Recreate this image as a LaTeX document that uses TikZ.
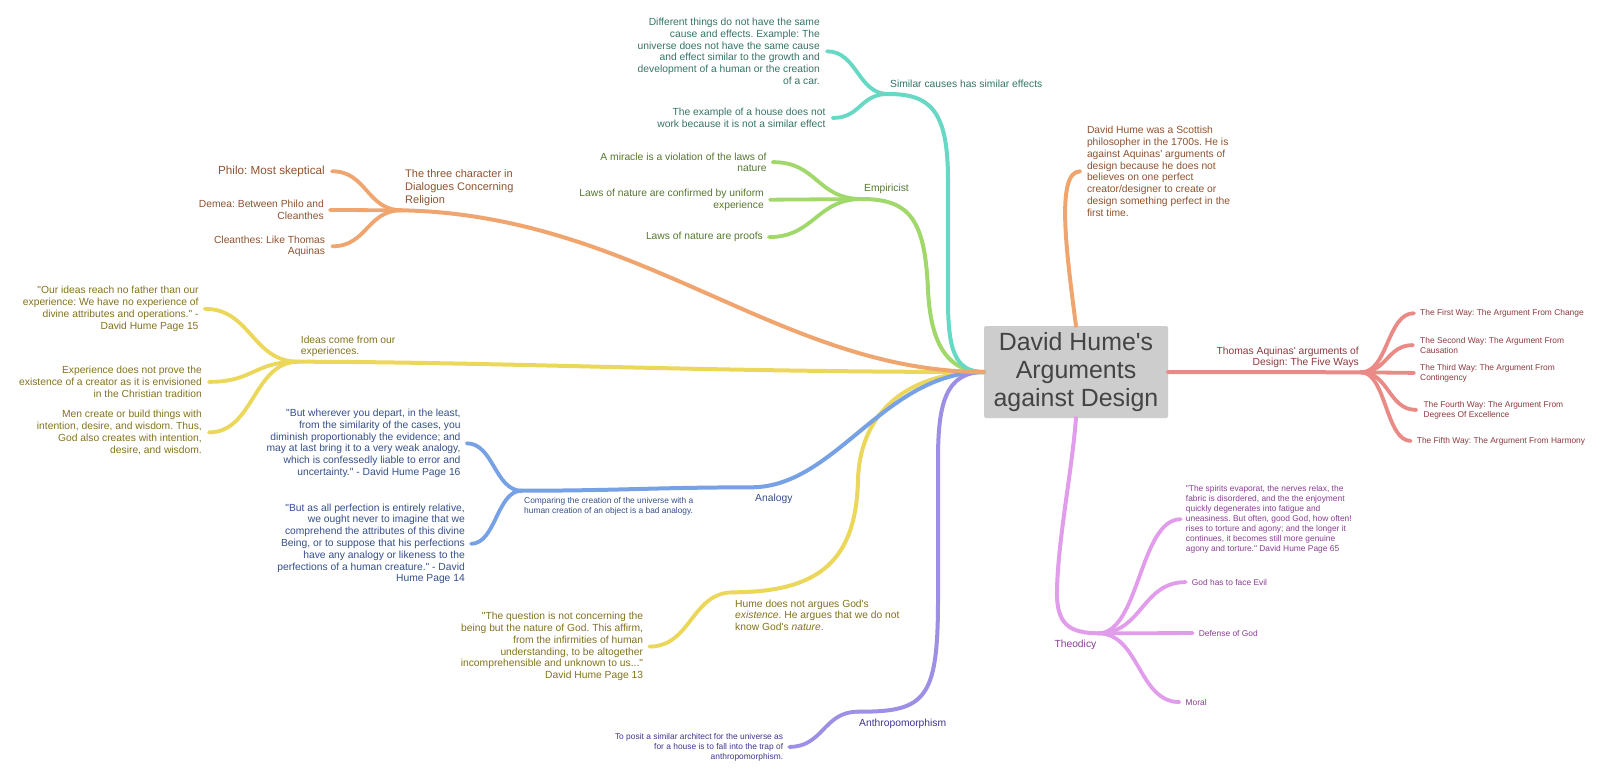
\documentclass[tikz,border=0pt]{standalone}
\usepackage{fontspec}
\setmainfont{Liberation Sans}[Ligatures=TeXOff]
\frenchspacing
\definecolor{tealL}{HTML}{66D8C3}
\definecolor{tealT}{HTML}{357567}
\definecolor{greenL}{HTML}{A1D86B}
\definecolor{greenT}{HTML}{56782F}
\definecolor{orangeL}{HTML}{F0A56F}
\definecolor{orangeT}{HTML}{8F5330}
\definecolor{yellowL}{HTML}{EBD75A}
\definecolor{yellowT}{HTML}{83731E}
\definecolor{blueL}{HTML}{77A1E5}
\definecolor{blueT}{HTML}{36508A}
\definecolor{purpleL}{HTML}{9D8FE6}
\definecolor{purpleT}{HTML}{3F3590}
\definecolor{redL}{HTML}{E98A86}
\definecolor{redT}{HTML}{8D3A3F}
\definecolor{pinkL}{HTML}{E29CEC}
\definecolor{pinkT}{HTML}{8A3D94}
\definecolor{boxfill}{HTML}{CDCDCD}
\definecolor{boxtext}{HTML}{444444}
\begin{document}
\begin{tikzpicture}[x=1pt,y=-1pt,
  br/.style={line width=4pt, line cap=round},
  sub/.style={line width=3.8pt, line cap=round},
  nt/.style={inner sep=0pt, font=\fontsize{10.3}{11.8}\selectfont},
  st/.style={inner sep=0pt, font=\fontsize{8.4}{10}\selectfont},
  txl/.style={anchor=north west, align=left},
  txr/.style={anchor=north east, align=right},
]
\fill[white] (0,0) rectangle (1614,779);
\useasboundingbox (0,0) rectangle (1614,779);

% centre
\node[fill=boxfill, rounded corners=1.5pt, minimum width=184pt, minimum height=92pt, inner sep=0pt,
      align=center, text=boxtext, font=\fontsize{24.9}{28.3}\selectfont] (c) at (1076,372)
      {David Hume's\\Arguments\\against Design};

% junctions
\coordinate (jT) at (888,94);
\coordinate (jG) at (861.7,199);
\coordinate (jO) at (401.7,210.3);
\coordinate (jY) at (298.3,361.7);
\coordinate (jB) at (751.7,487.3);
\coordinate (jB2) at (521.7,490.7);
\coordinate (jH) at (733.3,592.3);
\coordinate (jP) at (857.7,711.7);
\coordinate (jR) at (1361,372.3);
\coordinate (jK) at (1098.3,633.3);

% texts
\node[nt, txl, text=tealT] (t0) at (890,80.1) {Similar causes has similar effects};
\node[nt, txr, text=tealT] (t1) at (820,17.8) {Different things do not have the same\\cause and effects. Example: The\\universe does not have the same cause\\and effect similar to the growth and\\development of a human or the creation\\of a car.};
\node[nt, txr, text=tealT] (t2) at (825.7,108.1) {The example of a house does not\\work because it is not a similar effect};

\node[nt, txl, text=greenT] (g0) at (864,184.1) {Empiricist};
\node[nt, txr, text=greenT] (g1) at (766.7,152.8) {A miracle is a violation of the laws of\\[-1.2pt]nature};
\node[nt, txr, text=greenT] (g2) at (764,188.8) {Laws of nature are confirmed by uniform\\experience};
\node[nt, txr, text=greenT] (g3) at (763,232.1) {Laws of nature are proofs};

\node[inner sep=0pt, font=\fontsize{11}{13}\selectfont, txl, text=orangeT] (o0) at (405,169.1) {The three character in\\Dialogues Concerning\\Religion};
\node[inner sep=0pt, font=\fontsize{11.7}{14}\selectfont, txr, text=orangeT] (o1) at (325,165.6) {Philo: Most skeptical};
\node[nt, txr, text=orangeT] (o2) at (324,200.1) {Demea: Between Philo and\\Cleanthes};
\node[nt, txr, text=orangeT] (o3) at (325.3,235.4) {Cleanthes: Like Thomas\\Aquinas};

\node[nt, txl, text=yellowT] (y0) at (300.7,335.4) {Ideas come from our\\experiences.};
\node[nt, txr, text=yellowT] (y1) at (198.7,286.1) {"Our ideas reach no father than our\\experience: We have no experience of\\divine attributes and operations." -\\David Hume Page 15};
\node[nt, txr, text=yellowT] (y2) at (202,366.1) {Experience does not prove the\\existence of a creator as it is envisioned\\in the Christian tradition};
\node[nt, txr, text=yellowT] (y3) at (202,410.1) {Men create or build things with\\intention, desire, and wisdom. Thus,\\God also creates with intention,\\desire, and wisdom.};

\node[nt, txl, text=blueT] (b0) at (755,493.4) {Analogy};
\node[st, txl, text=blueT] (b1) at (524,496.8) {Comparing the creation of the universe with a\\human creation of an object is a bad analogy.};
\node[nt, txr, text=blueT] (b2) at (460.7,408.8) {"But wherever you depart, in the least,\\from the similarity of the cases, you\\diminish proportionably the evidence; and\\may at last bring it to a very weak analogy,\\which is confessedly liable to error and\\uncertainty." - David Hume Page 16};
\node[nt, txr, text=blueT] (b3) at (465,503.4) {"But as all perfection is entirely relative,\\we ought never to imagine that we\\comprehend the attributes of this divine\\Being, or to suppose that his perfections\\have any analogy or likeness to the\\perfections of a human creature." - David\\Hume Page 14};

\node[nt, txl, text=yellowT] (h0) at (735,599.4) {Hume does not argues God's\\\textit{existence}. He argues that we do not\\know God's \textit{nature}.};
\node[nt, txr, text=yellowT] (h1) at (643.3,612.1) {"The question is not concerning the\\being but the nature of God. This affirm,\\from the infirmities of human\\understanding, to be altogether\\incomprehensible and unknown to us..."\\David Hume Page 13};

\node[nt, txl, text=purpleT] (p0) at (859,718.4) {Anthropomorphism};
\node[st, txr, text=purpleT] (p1) at (783.3,732.8) {To posit a similar architect for the universe as\\for a house is to fall into the trap of\\anthropomorphism.};

\node[nt, txl, text=orangeT] (d0) at (1086.8,126.1) {David Hume was a Scottish\\philosopher in the 1700s. He is\\against Aquinas' arguments of\\design because he does not\\believes on one perfect\\creator/designer to create or\\design something perfect in the\\first time.};

\node[nt, txr, text=redT] (r0) at (1359,346.4) {Thomas Aquinas' arguments of\\Design: The Five Ways};
\node[st, txl, text=redT] (r1) at (1420,309.1) {The First Way: The Argument From Change};
\node[st, txl, text=redT] (r2) at (1420,336.8) {The Second Way: The Argument From\\Causation};
\node[st, txl, text=redT] (r3) at (1420,363.8) {The Third Way: The Argument From\\Contingency};
\node[st, txl, text=redT] (r4) at (1423.3,400.8) {The Fourth Way: The Argument From\\Degrees Of Excellence};
\node[st, txl, text=redT] (r5) at (1416.7,436.8) {The Fifth Way: The Argument From Harmony};

\node[nt, txl, text=pinkT] (k0) at (1054.3,640.1) {Theodicy};
\node[st, txl, text=pinkT] (k1) at (1185.7,485.1) {"The spirits evaporat, the nerves relax, the\\fabric is disordered, and the the enjoyment\\quickly degenerates into fatigue and\\uneasiness. But often, good God, how often!\\rises to torture and agony; and the longer it\\continues, it becomes still more genuine\\agony and torture." David Hume Page 65};
\node[st, txl, text=pinkT] (k2) at (1191.7,578.8) {God has to face Evil};
\node[st, txl, text=pinkT] (k3) at (1198.7,629.8) {Defense of God};
\node[st, txl, text=pinkT] (k4) at (1185.4,698.8) {Moral};

% main branches
\draw[br, yellowL] (c.west) .. controls (700,372) and (500,362) .. (jY);
\draw[br, yellowL] (c.west) .. controls (910,372) and (860,410) .. (858,480) .. controls (856,560) and (820,592) .. (jH);
\draw[br, blueL] (c.west) .. controls (884,372) and (836,487) .. (jB) .. controls (650,487.5) and (620,490.7) .. (jB2);
\draw[br, purpleL] (c.west) .. controls (945,372) and (938,405) .. (938,460) -- (938,600) .. controls (938,700) and (925,712) .. (jP);
\draw[br, greenL] (c.west) .. controls (940,372) and (930,330) .. (928,290) .. controls (925,220) and (910,199) .. (jG);
\draw[br, tealL] (c.west) .. controls (955,372) and (948,350) .. (948,300) -- (948,180) .. controls (948,110) and (930,94) .. (jT);
\draw[br, orangeL] (c.west) .. controls (780,372) and (640,215) .. (jO);
\draw[br, orangeL] (c.north) .. controls (1066,250) and (1056,172) .. ([xshift=-7pt]d0.west);
\draw[br, redL] (c.east) -- (jR);
\draw[br, pinkL] (c.south) .. controls (1072,470) and (1058,540) .. (1057,590) .. controls (1056,625) and (1070,633) .. (jK);

% sub branches
\draw[sub, tealL] (jT) to[out=180,in=0,distance=30pt] ([xshift=7pt]t1.east);
\draw[sub, tealL] (jT) to[out=180,in=0,distance=28pt] ([xshift=7pt]t2.east);
\draw[sub, greenL] (jG) to[out=180,in=0,distance=45pt] ([xshift=6pt]g1.east);
\draw[sub, greenL] (jG) to[out=180,in=0,distance=45pt] ([xshift=6pt]g2.east);
\draw[sub, greenL] (jG) to[out=180,in=0,distance=45pt] ([xshift=6pt]g3.east);
\draw[sub, orangeL] (jO) to[out=180,in=0,distance=35pt] ([xshift=7pt]o1.east);
\draw[sub, orangeL] (jO) to[out=180,in=0,distance=35pt] ([xshift=6pt]o2.east);
\draw[sub, orangeL] (jO) to[out=180,in=0,distance=35pt] ([xshift=7pt]o3.east);
\draw[sub, yellowL] (jY) to[out=180,in=0,distance=46pt] ([xshift=6pt]y1.east);
\draw[sub, yellowL] (jY) to[out=180,in=0,distance=45pt] ([xshift=7pt]y2.east);
\draw[sub, yellowL] (jY) to[out=180,in=0,distance=45pt] ([xshift=7pt]y3.east);
\draw[sub, blueL] (jB2) to[out=180,in=0,distance=27pt] ([xshift=6pt]b2.east);
\draw[sub, blueL] (jB2) to[out=180,in=0,distance=25pt] ([xshift=6pt]b3.east);
\draw[sub, yellowL] (jH) to[out=180,in=0,distance=42pt] ([xshift=6pt]h1.east);
\draw[sub, purpleL] (jP) to[out=180,in=0,distance=34pt] ([xshift=6pt]p1.east);
\draw[sub, redL] (jR) to[out=0,in=180,distance=27pt] ([xshift=-6pt]r1.west);
\draw[sub, redL] (jR) to[out=0,in=180,distance=26pt] ([xshift=-7pt]r2.west);
\draw[sub, redL] (jR) to[out=0,in=180,distance=27pt] ([xshift=-6pt]r3.west);
\draw[sub, redL] (jR) to[out=0,in=180,distance=28pt] ([xshift=-7pt]r4.west);
\draw[sub, redL] (jR) to[out=0,in=180,distance=25pt] ([xshift=-6pt]r5.west);
\draw[sub, pinkL] (jK) to[out=0,in=180,distance=41pt] ([xshift=-5pt]k1.west);
\draw[sub, pinkL] (jK) to[out=0,in=180,distance=44pt] ([xshift=-6pt]k2.west);
\draw[sub, pinkL] (jK) to[out=0,in=180,distance=45pt] ([xshift=-6pt]k3.west);
\draw[sub, pinkL] (jK) to[out=0,in=180,distance=41pt] ([xshift=-6pt]k4.west);
\end{tikzpicture}
\end{document}
